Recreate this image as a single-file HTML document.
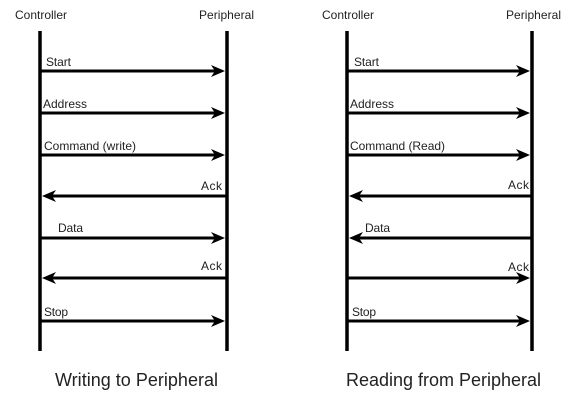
<!DOCTYPE html>
<html><head><style>
body{margin:0;background:#fff;}
svg text{font-family:"Liberation Sans",sans-serif;fill:#222;}
</style></head><body>
<svg width="574" height="401" viewBox="0 0 574 401" xmlns="http://www.w3.org/2000/svg">
<defs>
<g id="ar"><path d="M0 0 L-14 -6 L-10 0 L-14 6 Z" fill="#000"/></g>
</defs>
<g font-size="12">
<text x="15" y="19" textLength="52">Controller</text>
<text x="199" y="19" textLength="55">Peripheral</text>
<text x="322" y="19" textLength="52">Controller</text>
<text x="506" y="19" textLength="55">Peripheral</text>
</g>
<g stroke="#000" stroke-width="3.5">
<line x1="40" y1="31" x2="40" y2="351"/>
<line x1="227" y1="31" x2="227" y2="351"/>
<line x1="347" y1="31" x2="347" y2="351"/>
<line x1="532" y1="31" x2="532" y2="351"/>
</g>
<g stroke="#000" stroke-width="3">
<line x1="40" y1="71" x2="215" y2="71"/>
<line x1="40" y1="113" x2="215" y2="113"/>
<line x1="40" y1="155" x2="215" y2="155"/>
<line x1="52" y1="196" x2="227" y2="196"/>
<line x1="40" y1="238" x2="215" y2="238"/>
<line x1="52" y1="278" x2="227" y2="278"/>
<line x1="40" y1="321" x2="215" y2="321"/>
<line x1="347" y1="71" x2="520" y2="71"/>
<line x1="347" y1="113" x2="520" y2="113"/>
<line x1="347" y1="155" x2="520" y2="155"/>
<line x1="359" y1="196" x2="532" y2="196"/>
<line x1="359" y1="238" x2="532" y2="238"/>
<line x1="347" y1="278" x2="520" y2="278"/>
<line x1="347" y1="321" x2="520" y2="321"/>
</g>
<use href="#ar" transform="translate(225,71)"/>
<use href="#ar" transform="translate(225,113)"/>
<use href="#ar" transform="translate(225,155)"/>
<use href="#ar" transform="translate(42,196) scale(-1,1)"/>
<use href="#ar" transform="translate(225,238)"/>
<use href="#ar" transform="translate(42,278) scale(-1,1)"/>
<use href="#ar" transform="translate(225,321)"/>
<use href="#ar" transform="translate(530,71)"/>
<use href="#ar" transform="translate(530,113)"/>
<use href="#ar" transform="translate(530,155)"/>
<use href="#ar" transform="translate(349,196) scale(-1,1)"/>
<use href="#ar" transform="translate(349,238) scale(-1,1)"/>
<use href="#ar" transform="translate(530,278)"/>
<use href="#ar" transform="translate(530,321)"/>
<g font-size="12">
<text x="46" y="66" textLength="25">Start</text>
<text x="43" y="108" textLength="44">Address</text>
<text x="44" y="150" textLength="92">Command (write)</text>
<text x="201" y="190" textLength="21">Ack</text>
<text x="58" y="232" textLength="25">Data</text>
<text x="201" y="270" textLength="21">Ack</text>
<text x="44" y="316" textLength="24">Stop</text>
<text x="354" y="66" textLength="25">Start</text>
<text x="350" y="108" textLength="44">Address</text>
<text x="350" y="150" textLength="95">Command (Read)</text>
<text x="508" y="189" textLength="21">Ack</text>
<text x="365" y="232" textLength="25">Data</text>
<text x="508" y="271" textLength="21">Ack</text>
<text x="352" y="316" textLength="24">Stop</text>
</g>
<g font-size="18">
<text x="55" y="386" textLength="163">Writing to Peripheral</text>
<text x="346" y="386" textLength="195">Reading from Peripheral</text>
</g>
</svg>
</body></html>
